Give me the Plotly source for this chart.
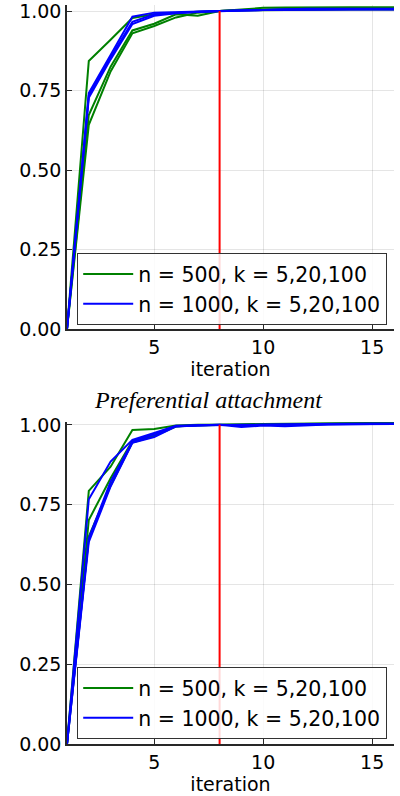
import plotly.graph_objects as go

iterations = list(range(1, 17))

# Top panel
top_green = [
    [0, 0.843, 0.910, 0.978, 0.990, 0.995, 0.998, 1.0, 1.006, 1.010, 1.011, 1.012, 1.012, 1.012, 1.012, 1.012],
    [0, 0.673, 0.825, 0.939, 0.960, 0.990, 0.985, 1.0, 1.003, 1.005, 1.006, 1.007, 1.008, 1.008, 1.008, 1.008],
    [0, 0.642, 0.810, 0.930, 0.953, 0.980, 0.995, 1.0, 1.002, 1.003, 1.004, 1.005, 1.005, 1.005, 1.005, 1.005],
]
top_blue = [
    [0, 0.742, 0.862, 0.982, 0.995, 0.997, 0.999, 1.0, 1.003, 1.005, 1.006, 1.007, 1.007, 1.007, 1.007, 1.007],
    [0, 0.735, 0.855, 0.966, 0.990, 0.995, 0.998, 1.0, 1.002, 1.004, 1.005, 1.005, 1.006, 1.006, 1.006, 1.006],
    [0, 0.727, 0.848, 0.959, 0.985, 0.993, 0.997, 1.0, 1.002, 1.003, 1.004, 1.004, 1.005, 1.005, 1.005, 1.005],
]

# Bottom panel: Preferential attachment
bot_green = [
    [0, 0.793, 0.869, 0.984, 0.987, 0.998, 1.000, 1.0, 1.001, 1.003, 1.004, 1.005, 1.005, 1.006, 1.006, 1.006],
    [0, 0.702, 0.833, 0.950, 0.970, 0.996, 0.999, 1.0, 1.000, 1.002, 1.003, 1.003, 1.004, 1.004, 1.004, 1.004],
    [0, 0.650, 0.810, 0.945, 0.965, 0.995, 0.999, 1.0, 1.001, 1.002, 1.002, 1.003, 1.003, 1.003, 1.003, 1.003],
]
bot_blue = [
    [0, 0.767, 0.885, 0.953, 0.975, 0.997, 0.999, 1.0, 0.993, 0.998, 0.996, 0.999, 1.001, 1.002, 1.003, 1.003],
    [0, 0.645, 0.822, 0.948, 0.970, 0.996, 0.998, 1.0, 1.000, 1.001, 1.002, 1.003, 1.003, 1.004, 1.004, 1.004],
    [0, 0.633, 0.807, 0.944, 0.962, 0.995, 0.998, 1.0, 0.999, 1.000, 1.001, 1.002, 1.002, 1.003, 1.003, 1.003],
]

label_green = "n = 500, k = 5,20,100"
label_blue = "n = 1000, k = 5,20,100"
cutoff_x = [8, 8]
cutoff_y = [0, 1]
subtitle = "Preferential attachment"

FONT = "DejaVu Sans"
fig = go.Figure()

def add_panel(greens, blues, xa, ya, legend):
    for i, s in enumerate(greens):
        fig.add_trace(go.Scatter(x=iterations, y=s, mode="lines", xaxis=xa, yaxis=ya,
                                 line=dict(color="rgb(0,128,0)", width=2),
                                 name=label_green, legendgroup=legend + "g",
                                 showlegend=(i == 0), legend=legend))
    for i, s in enumerate(blues):
        fig.add_trace(go.Scatter(x=iterations, y=s, mode="lines", xaxis=xa, yaxis=ya,
                                 line=dict(color="rgb(0,0,255)", width=2),
                                 name=label_blue, legendgroup=legend + "b",
                                 showlegend=(i == 0), legend=legend))
    fig.add_trace(go.Scatter(x=cutoff_x, y=cutoff_y, mode="lines", xaxis=xa, yaxis=ya,
                             line=dict(color="rgb(255,0,0)", width=2), showlegend=False))

add_panel(top_green, top_blue, "x", "y", "legend")
add_panel(bot_green, bot_blue, "x2", "y2", "legend2")

H = 796
mt, mb, ml, mr = 5, 52, 67, 6
ph = H - mt - mb

def py(px):
    return (H - mb - px) / ph

axis_common = dict(
    showline=True, linecolor="rgb(40,40,40)", linewidth=1.5,
    ticks="inside", ticklen=5, tickcolor="rgb(40,40,40)", tickwidth=1.2,
    showgrid=True, gridcolor="rgba(0,0,0,0.1)", gridwidth=1,
    zeroline=False, mirror=False, automargin=False,
    ticklabeloverflow="allow",
    tickfont=dict(family=FONT, size=19, color="black"),
)

legend_common = dict(x=(77 - ml) / 327, xanchor="left", yanchor="top",
                     bgcolor="rgba(255,255,255,0.85)", bordercolor="rgb(50,50,50)",
                     borderwidth=1.2,
                     font=dict(family=FONT, size=20.5), tracegroupgap=0,
                     itemwidth=50)

fig.update_layout(
    width=400, height=H,
    margin=dict(l=ml, r=mr, t=mt, b=mb),
    plot_bgcolor="white", paper_bgcolor="white",
    font=dict(family=FONT, size=19, color="black"),
    xaxis=dict(axis_common, range=[1, 16], tickvals=[5, 10, 15], anchor="y",
               domain=[0, 1],
               title=dict(text="iteration", font=dict(size=19), standoff=1)),
    yaxis=dict(axis_common, range=[0, 1.019], tickvals=[0, 0.25, 0.5, 0.75, 1.0],
               tickformat=".2f", anchor="x", domain=[py(329), py(5)]),
    xaxis2=dict(axis_common, range=[1, 16], tickvals=[5, 10, 15], anchor="y2",
                domain=[0, 1],
                title=dict(text="iteration", font=dict(size=19), standoff=1)),
    yaxis2=dict(axis_common, range=[0, 1.009], tickvals=[0, 0.25, 0.5, 0.75, 1.0],
                tickformat=".2f", anchor="x2", domain=[py(744), py(422)]),
    legend=dict(legend_common, y=py(253)),
    legend2=dict(legend_common, y=py(667)),
    annotations=[dict(text="<i>" + subtitle + "</i>", x=(208 - ml) / 327, y=py(400),
                      xref="paper", yref="paper", showarrow=False,
                      xanchor="center", yanchor="middle",
                      font=dict(family="Liberation Serif", size=24, color="black"))],
)

fig.write_html("out.html")
